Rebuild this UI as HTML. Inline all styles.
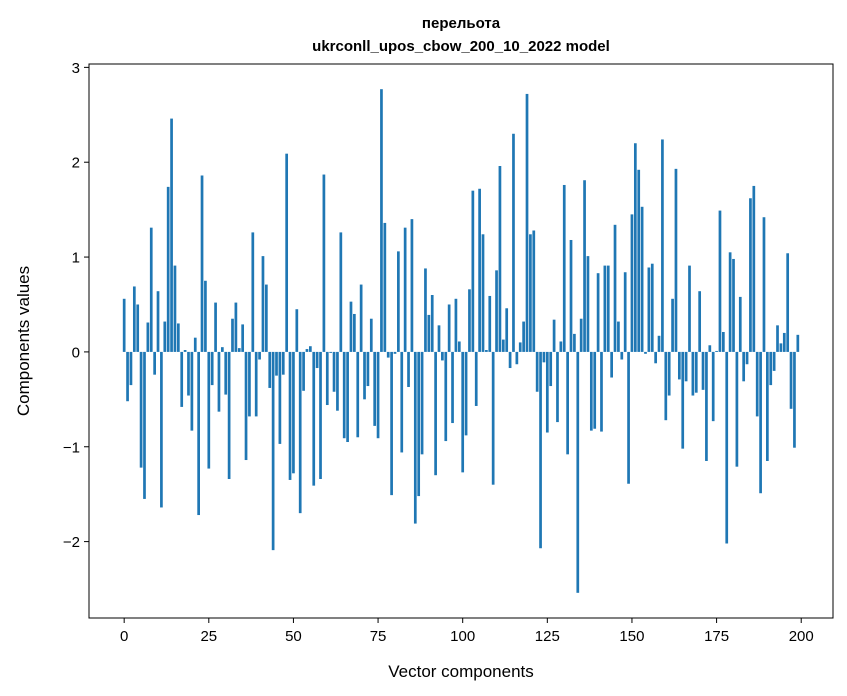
<!DOCTYPE html>
<html><head><meta charset="utf-8"><style>
html,body{margin:0;padding:0;background:#fff;}
svg{display:block;font-family:"Liberation Sans","DejaVu Sans",sans-serif;}
</style></head><body>
<svg id="chart" width="847" height="696" viewBox="0 0 847 696" xmlns="http://www.w3.org/2000/svg">
<rect width="847" height="696" fill="#fff"/>
<text x="461" y="28" text-anchor="middle" font-size="15" font-weight="bold">перельота</text>
<text x="461" y="51" text-anchor="middle" font-size="15" font-weight="bold">ukrconll_upos_cbow_200_10_2022 model</text>
<g id="bars"></g>
<g id="xaxis"></g>
<g id="yaxis"></g>
<rect x="89" y="64" width="744" height="554" fill="none" stroke="#000" stroke-width="1"/>
<text x="461" y="677" text-anchor="middle" font-size="17">Vector components</text>
<text transform="translate(29,341) rotate(-90)" text-anchor="middle" font-size="17">Components values</text>
</svg>
<script>
const values = [0.56,-0.52,-0.35,0.69,0.50,-1.22,-1.55,0.31,1.31,-0.24,
0.64,-1.64,0.32,1.74,2.46,0.91,0.30,-0.58,0.02,-0.46,
-0.83,0.15,-1.72,1.86,0.75,-1.23,-0.35,0.52,-0.63,0.05,
-0.45,-1.34,0.35,0.52,0.04,0.29,-1.14,-0.68,1.26,-0.68,
-0.08,1.01,0.71,-0.38,-2.09,-0.25,-0.97,-0.24,2.09,-1.35,
-1.28,0.45,-1.70,-0.41,0.03,0.06,-1.41,-0.17,-1.34,1.87,
-0.56,-0.01,-0.42,-0.62,1.26,-0.91,-0.95,0.53,0.40,-0.90,
0.71,-0.50,-0.36,0.35,-0.78,-0.91,2.77,1.36,-0.06,-1.51,
-0.02,1.06,-1.06,1.31,-0.37,1.40,-1.81,-1.52,-1.08,0.88,
0.39,0.60,-1.30,0.28,-0.09,-0.94,0.50,-0.75,0.56,0.11,
-1.27,-0.88,0.66,1.70,-0.57,1.72,1.24,0.02,0.59,-1.40,
0.86,1.96,0.13,0.46,-0.17,2.30,-0.13,0.10,0.32,2.72,
1.24,1.28,-0.42,-2.07,-0.11,-0.85,-0.36,0.34,-0.74,0.11,
1.76,-1.08,1.18,0.19,-2.54,0.35,1.81,1.01,-0.83,-0.81,
0.83,-0.84,0.91,0.91,-0.27,1.34,0.32,-0.08,0.84,-1.39,
1.45,2.20,1.92,1.53,-0.02,0.89,0.93,-0.12,0.17,2.24,
-0.72,-0.46,0.56,1.93,-0.29,-1.02,-0.31,0.91,-0.46,-0.43,
0.64,-0.40,-1.15,0.07,-0.73,0.01,1.49,0.21,-2.02,1.05,
0.98,-1.21,0.58,-0.31,-0.13,1.62,1.75,-0.68,-1.49,1.42,
-1.15,-0.35,-0.20,0.28,0.09,0.20,1.04,-0.60,-1.01,0.18];
const xTicks = [0,25,50,75,100,125,150,175,200];
const yTicks = [-2,-1,0,1,2,3];

const NS = "http://www.w3.org/2000/svg";
const L=89,R=833,T=64,B=618;
const n = values.length;
const x0 = -0.4 - 0.05*(n-1+0.8), x1 = n-1+0.4 + 0.05*(n-1+0.8);
const vmin = Math.min(0,...values), vmax = Math.max(0,...values);
const y0 = vmin - 0.05*(vmax-vmin), y1 = vmax + 0.05*(vmax-vmin);
const sx = v => L + (v-x0)/(x1-x0)*(R-L);
const sy = v => B - (v-y0)/(y1-y0)*(B-T);
function mk(tag, attrs){const e=document.createElementNS(NS,tag);for(const k in attrs)e.setAttribute(k,attrs[k]);return e;}
const bars = document.getElementById('bars');
values.forEach((v,i)=>{
  const xa=sx(i-0.4), xb=sx(i+0.4);
  const ya=sy(Math.max(v,0)), yb=sy(Math.min(v,0));
  const r=mk('rect',{x:xa,y:ya,width:xb-xa,height:Math.max(yb-ya,0.3),fill:'#1f77b4'});
  
  
  bars.appendChild(r);
});
const xa=document.getElementById('xaxis');
xTicks.forEach(t=>{
  const X=sx(t);
  const l=mk('line',{x1:X,x2:X,y1:B,y2:B+5,stroke:'#000','stroke-width':1});
  
  
  xa.appendChild(l);
  const tx=mk('text',{x:X,y:B+23,'text-anchor':'middle','font-size':15});
  
  
  tx.textContent=String(t);
  xa.appendChild(tx);
});
const ya=document.getElementById('yaxis');
yTicks.forEach(t=>{
  const Y=sy(t);
  const l=mk('line',{x1:L-5,x2:L,y1:Y,y2:Y,stroke:'#000','stroke-width':1});
  
  
  ya.appendChild(l);
  const tx=mk('text',{x:L-9,y:Y+5.5,'text-anchor':'end','font-size':15});
  
  
  tx.textContent=(t<0?'\u2212':'')+Math.abs(t);
  ya.appendChild(tx);
});
</script>
</body></html>
